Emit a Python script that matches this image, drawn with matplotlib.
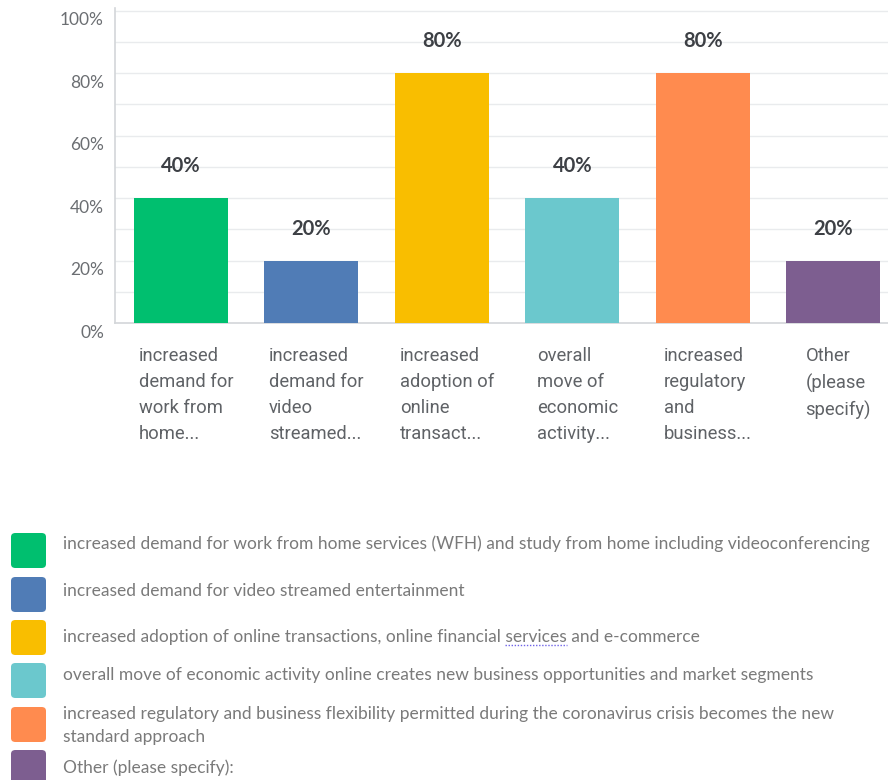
import matplotlib
matplotlib.use("Agg")
import matplotlib.pyplot as plt
import matplotlib.transforms as mtransforms
from matplotlib.patches import FancyBboxPatch
from matplotlib.lines import Line2D

# survey answers (share of respondents)
categories = [
    "increased\ndemand for\nwork from\nhome...",
    "increased\ndemand for\nvideo\nstreamed...",
    "increased\nadoption of\nonline\ntransact...",
    "overall\nmove of\neconomic\nactivity...",
    "increased\nregulatory\nand\nbusiness...",
    "Other\n(please\nspecify)",
]
values = [40, 20, 80, 40, 80, 20]
colors = ["#00BF6F", "#507CB6", "#F9BE00", "#6BC8CD", "#FF8B4F", "#7D5E90"]
legend_labels = [
    "increased demand for work from home services (WFH) and study from home including videoconferencing",
    "increased demand for video streamed entertainment",
    "increased adoption of online transactions, online financial services and e-commerce",
    "overall move of economic activity online creates new business opportunities and market segments",
    "increased regulatory and business flexibility permitted during the coronavirus crisis becomes the new\nstandard approach",
    "Other (please specify):",
]
yticks = [0, 20, 40, 60, 80, 100]

W, H = 888, 780
fig = plt.figure(figsize=(W / 100, H / 100), dpi=100)
fig.patch.set_facecolor("white")

ax = fig.add_axes([115 / W, 1 - 323 / H, 1 - 115 / W, 315 / H])
x = range(len(values))
ax.bar(x, values, width=0.72, color=colors, zorder=3)
ax.set_xlim(-0.506, 5.42)
ax.set_ylim(0, 100.8)

# light gridlines every 10%
for g in range(10, 101, 10):
    ax.axhline(g, color="#e9ebed", lw=1.0, zorder=1)

for s in ["top", "right"]:
    ax.spines[s].set_visible(False)
for s in ["left", "bottom"]:
    ax.spines[s].set_color("#d3d6d9")
    ax.spines[s].set_linewidth(1.2)

ax.set_yticks(yticks)
ax.set_yticklabels([f"{v}%" for v in yticks], fontfamily="Lato", fontsize=12.5, color="#6b6e72")
ax.tick_params(axis="y", length=0, pad=8)
shift = mtransforms.ScaledTranslation(0, -8 / 100, fig.dpi_scale_trans)
for lab in ax.get_yticklabels():
    lab.set_transform(lab.get_transform() + shift)
ax.set_xticks([])

# value labels above bars
for i, v in enumerate(values):
    ax.annotate(f"{v}%", (i, v), xytext=(0, 32), textcoords="offset pixels",
                ha="center", va="center", fontsize=14.5, fontweight="bold",
                fontfamily="Lato", color="#3d4045")

# wrapped category names under the bars
for i, c in enumerate(categories):
    ax.annotate(c, (i, 0), xytext=(5, -24), textcoords="offset pixels",
                ha="center", va="top", multialignment="left",
                fontsize=13.2, fontfamily="Roboto", color="#5f6266",
                linespacing=1.56, annotation_clip=False)

# legend drawn as rounded swatches with text
sw_top = [533, 577, 620, 663, 707, 750]
txt_y = [544, 591, 637, 675, 713, 768]
leg_fs = 12.5
for col, lab, top, ty in zip(colors, legend_labels, sw_top, txt_y):
    fig.patches.append(FancyBboxPatch((11 / W, 1 - (top + 35) / H), 35 / W, 35 / H,
                                      boxstyle="round,pad=0,rounding_size=0.005",
                                      transform=fig.transFigure, facecolor=col,
                                      edgecolor="none"))
    multi = "\n" in lab
    fig.text(63 / W, 1 - (ty - 7) / H if multi else 1 - ty / H, lab, ha="left",
             va="top" if multi else "center",
             fontsize=leg_fs, fontfamily="Lato", color="#7a7a7a", linespacing=1.55)

# spell-check squiggle under "services"
renderer = fig.canvas.get_renderer()
pre = fig.text(63 / W, 0.5, "increased adoption of online transactions, online financial ",
               fontsize=leg_fs, fontfamily="Lato")
word = fig.text(63 / W, 0.5, "services", fontsize=leg_fs, fontfamily="Lato")
x0 = 63 + pre.get_window_extent(renderer).width
x1 = x0 + word.get_window_extent(renderer).width
pre.remove()
word.remove()
fig.lines.append(Line2D([x0 / W, x1 / W], [1 - 645 / H, 1 - 645 / H],
                        transform=fig.transFigure, color="#6f63e8", lw=1.0,
                        linestyle=(0, (1, 1.2))))

fig.savefig("out.png", dpi=100)
